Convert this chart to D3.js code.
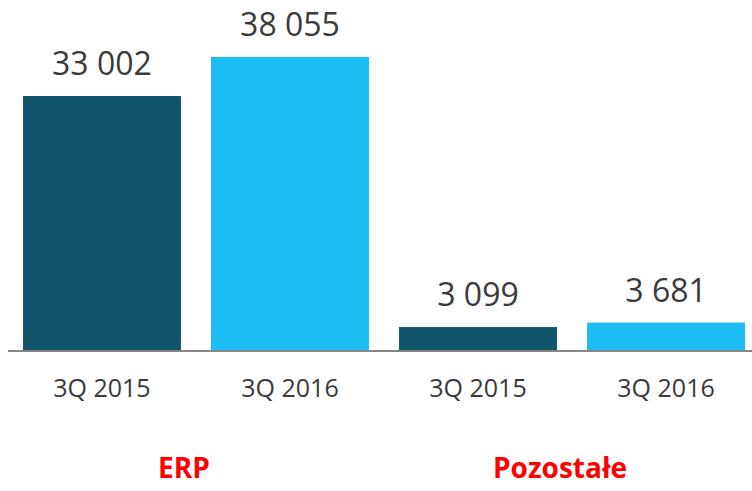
<!DOCTYPE html>
<html>
<head>
<meta charset="utf-8">
<title>ERP / Pozostałe</title>
<script src="https://d3js.org/d3.v7.min.js"></script>
<style>
  body { margin: 0; background: #fff; }
  text { font-family: "Open Sans", sans-serif; }
</style>
</head>
<body>
<svg width="752" height="491"></svg>
<script>
// data
const groups = ["ERP", "Pozostałe"];
const periods = ["3Q 2015", "3Q 2016"];
const erpValues = [33002, 38055];
const otherValues = [3099, 3681];

const colors = ["#0f546b", "#1cbdf5"];

const rows = [];
[erpValues, otherValues].forEach((vals, g) => {
  vals.forEach((v, i) => {
    rows.push({ key: g + "-" + i, group: groups[g], period: periods[i], value: v, idx: i });
  });
});

const svg = d3.select("svg");
const base = 351;

const x = d3.scaleBand()
  .domain(rows.map(d => d.key))
  .range([23, 745])
  .paddingInner(0.16)
  .paddingOuter(0);

const y = d3.scaleLinear()
  .domain([0, 38055])
  .range([base, 57]);

const fmt = d3.formatLocale({ decimal: ",", thousands: " ", grouping: [3], currency: ["", ""] }).format(",d");

// bars
svg.append("g").selectAll("rect")
  .data(rows)
  .join("rect")
  .attr("x", d => x(d.key))
  .attr("y", d => y(d.value))
  .attr("width", x.bandwidth())
  .attr("height", d => base - y(d.value))
  .attr("fill", d => colors[d.idx]);

// baseline
svg.append("line")
  .attr("x1", 8).attr("x2", 752)
  .attr("y1", base).attr("y2", base)
  .attr("stroke", "#878787")
  .attr("stroke-width", 2);

// value labels
svg.append("g").selectAll("text")
  .data(rows)
  .join("text")
  .attr("x", d => x(d.key) + x.bandwidth() / 2)
  .attr("y", d => y(d.value) - 21)
  .attr("text-anchor", "middle")
  .attr("font-size", 32)
  .attr("fill", "#3a3a3a")
  .text(d => fmt(d.value));

// category labels
svg.append("g").selectAll("text")
  .data(rows)
  .join("text")
  .attr("x", d => x(d.key) + x.bandwidth() / 2)
  .attr("y", 397)
  .attr("text-anchor", "middle")
  .attr("font-size", 25)
  .attr("fill", "#3a3a3a")
  .text(d => d.period);

// group labels
svg.append("g").selectAll("text")
  .data(groups)
  .join("text")
  .attr("x", (g, i) => {
    const ks = rows.filter(d => d.group === g).map(d => d.key);
    return (x(ks[0]) + x(ks[ks.length - 1]) + x.bandwidth()) / 2 - 12;
  })
  .attr("y", 478)
  .attr("text-anchor", "middle")
  .attr("font-size", 28)
  .attr("font-weight", "bold")
  .attr("fill", "#ff0000")
  .text(d => d);
</script>
</body>
</html>
